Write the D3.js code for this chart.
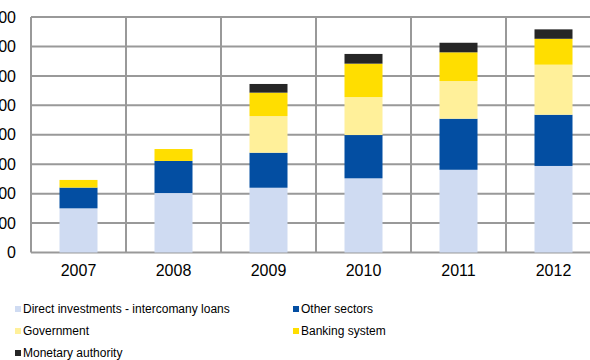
<!DOCTYPE html>
<html>
<head>
<meta charset="utf-8">
<script src="https://cdn.jsdelivr.net/npm/d3@7/dist/d3.min.js"></script>
<style>
  html, body { margin: 0; padding: 0; background: #fff; }
  svg { display: block; font-family: "Liberation Sans", Arial, sans-serif; }
</style>
</head>
<body>
<svg id="chart" width="590" height="360"></svg>
<script>
// External debt by sector, millions of euro
const years = ["2007", "2008", "2009", "2010", "2011", "2012"];
const directInvestment = [300, 404, 440, 504, 562, 588];
const otherSectors     = [141, 218, 238, 294, 347, 348];
const government       = [0, 0, 249, 258, 256, 340];
const bankingSystem    = [52, 81, 159, 227, 195, 176];
const monetaryAuthority = [0, 0, 59, 66, 65, 64];
const yTicks = [0, 200, 400, 600, 800, 1000, 1200, 1400, 1600];

const seriesNames = [
  "Direct investments - intercomany loans",
  "Other sectors",
  "Government",
  "Banking system",
  "Monetary authority"
];
const seriesColors = ["#cfdbf2", "#034ea2", "#fff09a", "#ffde00", "#262626"];
const seriesValues = [directInvestment, otherSectors, government, bankingSystem, monetaryAuthority];

const rows = years.map((y, i) => {
  const r = { year: y };
  seriesNames.forEach((n, k) => { r[n] = seriesValues[k][i]; });
  return r;
});

const svg = d3.select("#chart");
const plot = { left: 31, right: 601, top: 17, bottom: 252.5 };

const x = d3.scaleBand().domain(years).range([plot.left, plot.right]).padding(0);
const y = d3.scaleLinear().domain([0, 1600]).range([plot.bottom, plot.top]);

const gridColor = "#999999";

// horizontal gridlines
svg.append("g").selectAll("line").data(yTicks).join("line")
  .attr("x1", plot.left).attr("x2", plot.right)
  .attr("y1", d => y(d)).attr("y2", d => y(d))
  .attr("stroke", gridColor).attr("stroke-width", 2);

// vertical category separators
const seps = years.map(d => x(d)).concat([plot.right]);
svg.append("g").selectAll("line").data(seps).join("line")
  .attr("x1", d => d).attr("x2", d => d)
  .attr("y1", plot.top).attr("y2", plot.bottom)
  .attr("stroke", gridColor).attr("stroke-width", 2);

// stacked bars
const stack = d3.stack().keys(seriesNames);
const layers = stack(rows);
const barW = x.bandwidth() * 0.4;

svg.append("g").selectAll("g").data(layers).join("g")
  .attr("fill", (d, i) => seriesColors[i])
  .selectAll("rect").data(d => d).join("rect")
  .attr("x", d => x(d.data.year) + (x.bandwidth() - barW) / 2)
  .attr("width", barW)
  .attr("y", d => y(d[1]))
  .attr("height", d => Math.max(0, y(d[0]) - y(d[1])));

// y axis labels
const yAxis = d3.axisLeft(y).tickValues(yTicks).tickSize(0).tickPadding(0);
const gy = svg.append("g").attr("transform", "translate(16,0)").call(yAxis);
gy.select(".domain").remove();
gy.selectAll("text")
  .attr("font-size", 16).attr("fill", "#000")
  .attr("font-family", "Liberation Sans, Arial, sans-serif");

// x axis labels
const xAxis = d3.axisBottom(x).tickSize(0).tickPadding(0);
const gx = svg.append("g").attr("transform", `translate(0,${plot.bottom + 12})`).call(xAxis);
gx.select(".domain").remove();
gx.selectAll("text")
  .attr("font-size", 16).attr("fill", "#000")
  .attr("font-family", "Liberation Sans, Arial, sans-serif");

// legend
const legendPos = [
  [15, 309], [293, 309],
  [15, 331], [293, 331],
  [15, 353]
];
const leg = svg.append("g").selectAll("g").data(seriesNames).join("g")
  .attr("transform", (d, i) => `translate(${legendPos[i][0]},${legendPos[i][1]})`);
leg.append("rect")
  .attr("x", 0).attr("y", -3).attr("width", 6).attr("height", 6)
  .attr("fill", (d, i) => seriesColors[i]);
leg.append("text")
  .attr("x", 8).attr("y", 0).attr("dy", "0.35em")
  .attr("font-size", 12).attr("fill", "#000")
  .text(d => d);
</script>
</body>
</html>
